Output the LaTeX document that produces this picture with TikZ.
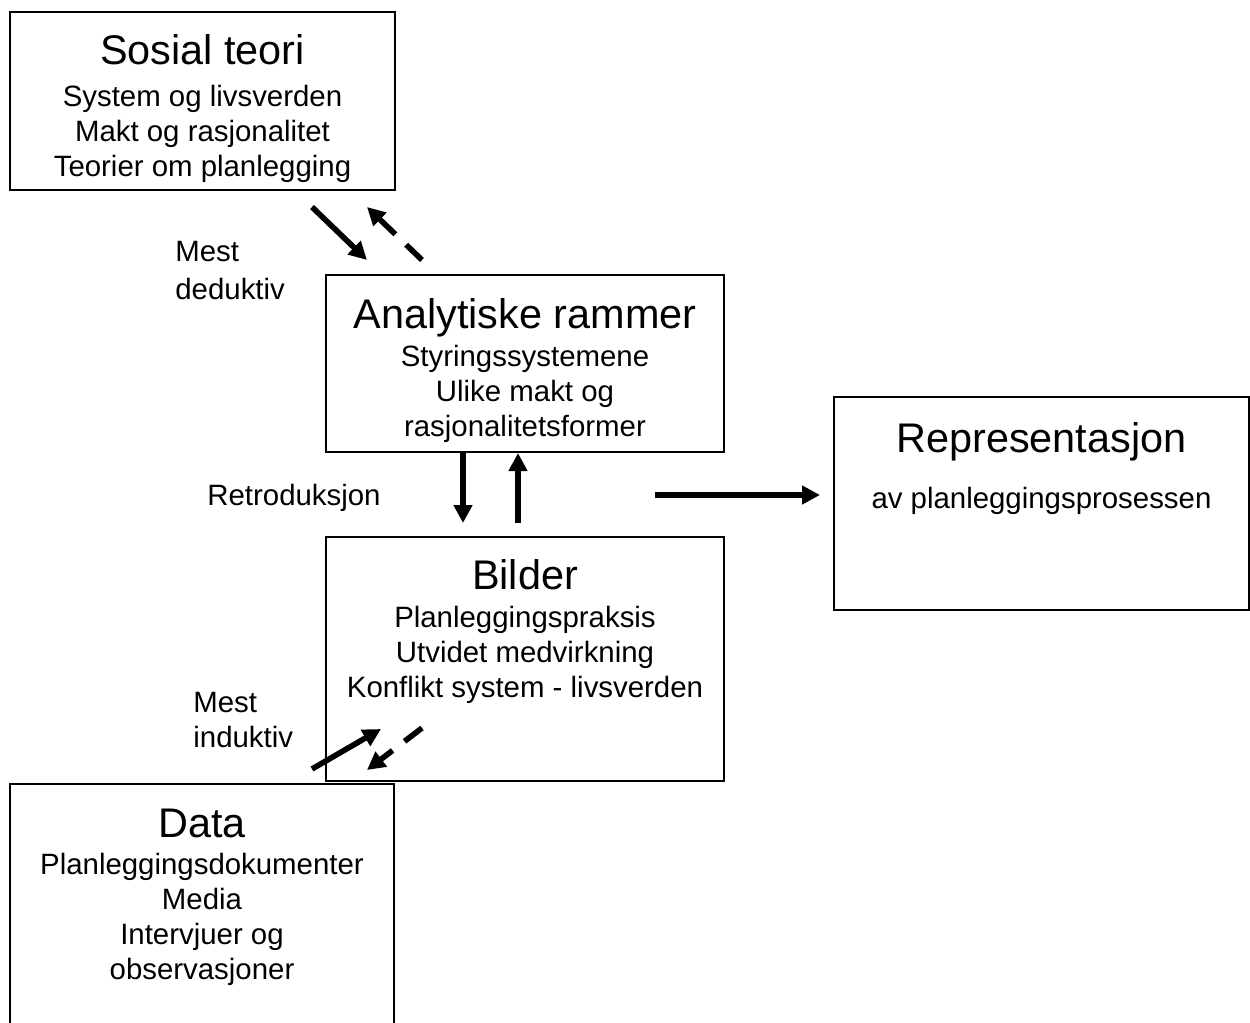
\documentclass[tikz,border=0pt]{standalone}
\usepackage{fontspec}
\setmainfont{Liberation Sans}
\usetikzlibrary{arrows.meta, positioning}

\newcommand{\headfont}{\fontsize{20.7}{24}\selectfont}
\newcommand{\linefont}{\fontsize{14.7}{17.5}\selectfont}

\begin{document}
\begin{tikzpicture}[x=0.5pt, y=-0.5pt,
  framebox/.style={draw, line width=0.75pt, inner sep=0pt},
  boxtext/.style={align=center, font=\linefont, inner sep=0pt},
  sidetext/.style={align=left, font=\linefont, inner sep=0pt, anchor=north west},
  flow/.style={line width=2.8pt, -{Triangle[length=9pt, width=9pt]}},
  backflow/.style={flow, dash pattern=on 11pt off 7.5pt},
]
\clip (0,0) rectangle (1250,1023);

% Boxes
\node[framebox, minimum width=192.5pt, minimum height=89pt] (sosial) at (202.5,101) {};
\node[framebox, minimum width=199pt, minimum height=88.5pt] (analyse) at (525,363.5) {};
\node[framebox, minimum width=207.5pt, minimum height=106.5pt] (repr) at (1041.5,503.5) {};
\node[framebox, minimum width=199pt, minimum height=122pt] (bilder) at (525,659) {};
\node[framebox, minimum width=192pt, minimum height=128pt] (data) at (202,912) {};

% Box texts
\node[boxtext, below=11.5pt of sosial.north] (sosialtxt)
  {{\headfont Sosial teori}\\[3.5pt] System og livsverden\\ Makt og rasjonalitet\\ Teorier om planlegging};
\node[boxtext, below=12pt of analyse.north] (analysetxt)
  {{\headfont Analytiske rammer}\\[1.5pt] Styringssystemene\\ Ulike makt og\\ rasjonalitetsformer};
\node[boxtext, below=13pt of repr.north] (reprtxt)
  {{\headfont Representasjon}\\[10.5pt] av planleggingsprosessen};
\node[boxtext, below=11.5pt of bilder.north] (bildertxt)
  {{\headfont Bilder}\\[1.5pt] Planleggingspraksis\\ Utvidet medvirkning\\ Konflikt system - livsverden};
\node[boxtext, below=12.5pt of data.north] (datatxt)
  {{\headfont Data}\\[1pt] Planleggingsdokumenter\\ Media\\ Intervjuer og\\ observasjoner};

% Side labels
\node[sidetext] (deduktiv) at (175,241) {Mest\\[1.5pt] deduktiv};
\node[sidetext] (retro) at (207,484) {Retroduksjon};
\node[sidetext] (induktiv) at (193,692) {Mest\\ induktiv};

% Arrow ends
\coordinate (dedS) at (312,207);
\coordinate (dedE) at (367,260);
\coordinate (dedbS) at (422,260);
\coordinate (dedbE) at (367,207);
\coordinate (retS) at (463,453);
\coordinate (retE) at (463,523);
\coordinate (retbS) at (518,523);
\coordinate (retbE) at (518,453);
\coordinate (repS) at (655,495);
\coordinate (repE) at (820,495);
\coordinate (indS) at (312,769);
\coordinate (indE) at (381,729);
\coordinate (indbS) at (422,728);
\coordinate (indbE) at (367,770);

% Arrows
\draw[flow] (dedS) -- (dedE);
\draw[backflow] (dedbS) -- (dedbE);
\draw[flow] (retS) -- (retE);
\draw[flow] (retbS) -- (retbE);
\draw[flow] (repS) -- (repE);
\draw[flow] (indS) -- (indE);
\draw[backflow] (indbS) -- (indbE);
\end{tikzpicture}
\end{document}
